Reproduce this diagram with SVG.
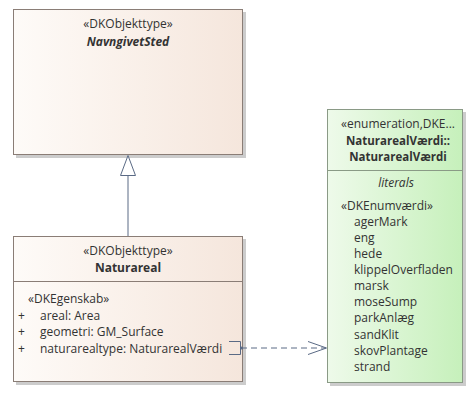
<svg xmlns="http://www.w3.org/2000/svg" width="476" height="419" viewBox="0 0 476 419">
<defs>
<linearGradient id="gb" x1="0" y1="0" x2="1" y2="0">
<stop offset="0" stop-color="#fefbf8"/>
<stop offset="1" stop-color="#f5e6dc"/>
</linearGradient>
<linearGradient id="gg" x1="0" y1="0" x2="1" y2="0">
<stop offset="0" stop-color="#eefaea"/>
<stop offset="1" stop-color="#c6f0bb"/>
</linearGradient>
</defs>
<style>
text{font-family:"Open Sans","Noto Sans","DejaVu Sans",sans-serif;font-size:12px;fill:#333}
.c{text-anchor:middle}
.b{font-weight:bold}
.s{font-size:11.5px}
.i{font-style:italic}
.box{stroke:#8a7d76;stroke-width:1}
.gbox{stroke:#8a9a86;stroke-width:1}
.sh{fill:#cccccc}
.ln{stroke:#5a6a85;stroke-width:1;fill:none}
</style>
<rect width="476" height="419" fill="#ffffff"/>
<g id="NavngivetSted">
<rect class="sh" x="16" y="12" width="230" height="146"/>
<rect class="box" x="13.5" y="9.5" width="229" height="145" fill="url(#gb)"/>
<text class="c" x="128" y="28">«DKObjekttype»</text>
<text class="c b i" x="128" y="46">NavngivetSted</text>
</g>
<g id="Naturareal">
<rect class="sh" x="16" y="239" width="230" height="146"/>
<rect class="box" x="13.5" y="236.5" width="229" height="145" fill="url(#gb)"/>
<text class="c" x="128" y="255">«DKObjekttype»</text>
<text class="c b" x="128" y="272">Naturareal</text>
<line class="box" x1="13.5" y1="281.5" x2="242.5" y2="281.5"/>
<text x="28" y="303">«DKEgenskab»</text>
<text x="18" y="320">+</text>
<text x="40" y="320">areal: Area</text>
<text x="18" y="336">+</text>
<text x="40" y="336">geometri: GM_Surface</text>
<text x="18" y="353">+</text>
<text x="40" y="353">naturarealtype: NaturarealVærdi</text>
</g>
<g id="NaturarealVaerdi">
<rect class="sh" x="330" y="112" width="136" height="274"/>
<rect class="gbox" x="327.5" y="109.5" width="135" height="273" fill="url(#gg)"/>
<text class="c" x="398" y="128">«enumeration,DKE...</text>
<text class="c b s" x="398" y="145">NaturarealVærdi::</text>
<text class="c b s" x="398" y="161">NaturarealVærdi</text>
<line class="gbox" x1="327.5" y1="170.5" x2="462.5" y2="170.5"/>
<text class="c i" x="396" y="187">literals</text>
<text x="341" y="210">«DKEnumværdi»</text>
<text x="354" y="226">agerMark</text>
<text x="354" y="242">eng</text>
<text x="354" y="258">hede</text>
<text x="354" y="274">klippelOverfladen</text>
<text x="354" y="290">marsk</text>
<text x="354" y="306">moseSump</text>
<text x="354" y="322">parkAnlæg</text>
<text x="354" y="339">sandKlit</text>
<text x="354" y="355">skovPlantage</text>
<text x="354" y="371">strand</text>
</g>
<g id="connectors">
<line class="ln" x1="128" y1="236" x2="128" y2="175.5"/>
<polygon points="128,155.5 120.5,175.5 135.5,175.5" fill="#ffffff" stroke="#5a6a85" stroke-width="1"/>
<polyline class="ln" points="229,341.5 240.5,341.5 240.5,354.5 229,354.5" stroke="#333"/>
<line class="ln" x1="241" y1="348" x2="326" y2="348" stroke-dasharray="6,4"/>
<polyline class="ln" points="308,341.5 326.5,348 308,354.5"/>
<circle cx="241.5" cy="348" r="1.5" fill="#5a6a85"/>
</g>
</svg>
